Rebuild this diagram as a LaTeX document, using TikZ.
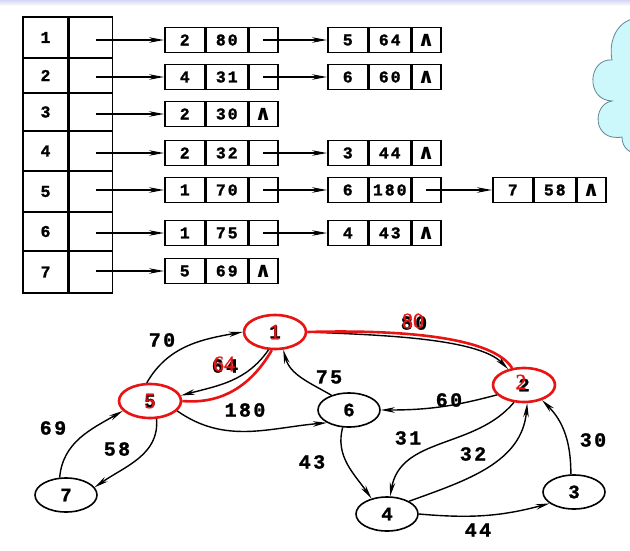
\documentclass[tikz,border=0pt]{standalone}
\usepackage{fontspec}
\usetikzlibrary{shapes.geometric,arrows.meta}
\newfontfamily\tabfont[LetterSpace=12,FakeBold=1.2]{Liberation Mono}
\newfontfamily\symfont{DejaVu Sans}
\newfontfamily\redfont[FakeBold=1.2]{Liberation Serif}
\definecolor{cloudfill}{RGB}{204,248,252}
\definecolor{cloudline}{RGB}{95,135,150}
\definecolor{band}{RGB}{214,214,246}
\definecolor{redc}{RGB}{232,20,20}
\tikzset{
  cellbox/.style={draw, line width=1.5pt, minimum height=25pt, inner sep=0pt, anchor=west,
    font=\tabfont\bfseries\fontsize{16.5}{16.5}\selectfont},
  ca/.style={cellbox, minimum width=40pt},
  cb/.style={cellbox, minimum width=41pt},
  cc/.style={cellbox, minimum width=29pt},
  headcell/.style={draw, line width=1.5pt, inner sep=0pt,
    font=\tabfont\bfseries\fontsize{16.5}{16.5}\selectfont},
  ptr/.style={line width=1.3pt, -{Stealth[length=15pt,width=5.5pt]}},
  gnode/.style={ellipse, draw, line width=1.6pt, minimum width=62pt, minimum height=34pt,
    inner sep=0pt, font=\tabfont\bfseries\fontsize{19}{19}\selectfont},
  rnode/.style={gnode, draw=redc, line width=2.6pt},
  edge/.style={line width=1.4pt, -{Stealth[length=14pt,width=5.5pt]}},
  elabel/.style={font=\tabfont\bfseries\fontsize{20}{20}\selectfont, inner sep=0pt},
  rlabel/.style={font=\redfont\fontsize{22}{22}\selectfont, text=redc, inner sep=0pt},
  redpath/.style={draw=redc, line width=2.6pt},
}
\newcommand\headrow[3]{%
  \node[headcell, minimum width=45pt, minimum height=#3pt] (r#1n) at (45.5,-#2) {#1};
  \node[headcell, minimum width=43pt, minimum height=#3pt, anchor=west] (r#1p) at (r#1n.east) {};
}
\newcommand\lelem[6]{%
  \node[ca] (#1a) at (#2,-#3) {#4};
  \node[cb] (#1b) at (#1a.east) {#5};
  \node[cc] (#1c) at (#1b.east) {#6};
}
\newcommand\nil{{\symfont\bfseries\fontsize{21}{21}\selectfont ∧}}
\begin{document}
\begin{tikzpicture}[x=1pt,y=1pt]
\useasboundingbox (0,0) rectangle (630,-550);
\fill[white] (0,0) rectangle (630,-550);
\shade[top color=band, bottom color=white] (0,0) rectangle (630,-6);
% cloud
\begin{scope}
\clip (0,0) rectangle (630,-550);
\path[fill=cloudfill, draw=cloudline, line width=0.8pt]
  (640,-18) .. controls (618,-18) and (608,-40) .. (612,-60)
  .. controls (588,-58) and (585,-100) .. (612,-101)
  .. controls (592,-104) and (592,-142) .. (622,-137)
  .. controls (622,-148) and (630,-154) .. (640,-154) -- cycle;
\end{scope}
% head table
\headrow{1}{37.5}{41}
\headrow{2}{75.5}{35}
\headrow{3}{112}{38}
\headrow{4}{151}{40}
\headrow{5}{191.5}{41}
\headrow{6}{231.5}{39}
\headrow{7}{272}{42}
% lists
\lelem{a1}{164}{40}{2}{80}{}
\lelem{b1}{327}{40}{5}{64}{\nil}
\lelem{a2}{164}{77}{4}{31}{}
\lelem{b2}{327}{77}{6}{60}{\nil}
\lelem{a3}{164}{114}{2}{30}{\nil}
\lelem{a4}{164}{153}{2}{32}{}
\lelem{b4}{327}{153}{3}{44}{\nil}
\lelem{a5}{164}{190}{1}{70}{}
\lelem{b5}{327}{190}{6}{180}{}
\lelem{c5}{492}{190}{7}{58}{\nil}
\lelem{a6}{164}{233}{1}{75}{}
\lelem{b6}{327}{233}{4}{43}{\nil}
\lelem{a7}{164}{271}{5}{69}{\nil}
\foreach \i in {1,...,7}{
  \path (r\i p.center |- a\i a.west) ++(5,0) coordinate (s\i);
  \draw[ptr] (s\i) -- (a\i a.west);
}
\draw[ptr] (a1c.center) -- (b1a.west);
\draw[ptr] (a2c.center) -- (b2a.west);
\draw[ptr] (a4c.center) -- (b4a.west);
\draw[ptr] (a5c.center) -- (b5a.west);
\draw[ptr] (b5c.center) -- (c5a.west);
\draw[ptr] (a6c.center) -- (b6a.west);
% graph nodes
\node[rnode] (n1) at (275,-332) {1};
\node[rnode] (n5) at (150,-401) {5};
\node[gnode] (n7) at (66,-495) {7};
\node[gnode] (n6) at (349,-410) {6};
\node[rnode] (n2) at (524,-385) {2};
\node[gnode] (n4) at (387,-514) {4};
\node[gnode] (n3) at (574,-492) {3};
\node[rlabel] (t1) at (n1) {1};
\node[rlabel] (t5) at (n5) {5};
\node[rlabel] (t2) at ([shift={(-3,3)}]n2.center) {2};
% edges
\draw[edge] (n5.100) to[out=60,in=190] (n1.west);
\draw[edge] (n1.250) to[out=235,in=15] (n5.10);
\draw[edge] (n1.east) .. controls (380,-335) and (478,-338) .. (n2.135);
\draw[edge] (n5.-20) to[out=-35,in=185] (n6.210);
\draw[edge] (n6.140) to[out=150,in=-75] (n1.-65);
\draw[edge] (n2.200) to[out=195,in=0] (n6.east);
\draw[edge] (n2.240) to[out=230,in=80] (n4.80);
\draw[edge] (n4.30) to[out=20,in=-95] (n2.-80);
\draw[edge] (n6.-110) to[out=-105,in=125] (n4.135);
\draw[edge] (n4.east) to[out=-5,in=195] (n3.205);
\draw[edge] (n3.100) to[out=90,in=-45] (n2.-40);
\draw[edge] (n5.-70) to[out=-85,in=35] (n7.15);
\draw[edge] (n7.110) to[out=85,in=210] (n5.200);
% red path
\draw[redpath] (n1.260) to[out=240,in=-5] (n5.east);
\draw[redpath] (n1.east) .. controls (380,-330) and (490,-333) .. (n2.125);
% labels
\node[elabel] (l70) at (162,-340) {70};
\node[elabel] (l64) at (225,-366) {64};
\node[rlabel] (r64) at (224,-364) {64};
\node[elabel] (l80) at (414,-323) {80};
\node[rlabel] (r80) at (413,-321) {80};
\node[elabel] (l180) at (245,-410) {180};
\node[elabel] (l75) at (329,-377) {75};
\node[elabel] (l60) at (449,-400) {60};
\node[elabel] (l31) at (408,-438) {31};
\node[elabel] (l32) at (473,-454) {32};
\node[elabel] (l43) at (312,-462) {43};
\node[elabel] (l44) at (478,-530) {44};
\node[elabel] (l30) at (593,-440) {30};
\node[elabel] (l58) at (117,-449) {58};
\node[elabel] (l69) at (53,-428) {69};
\end{tikzpicture}
\end{document}
